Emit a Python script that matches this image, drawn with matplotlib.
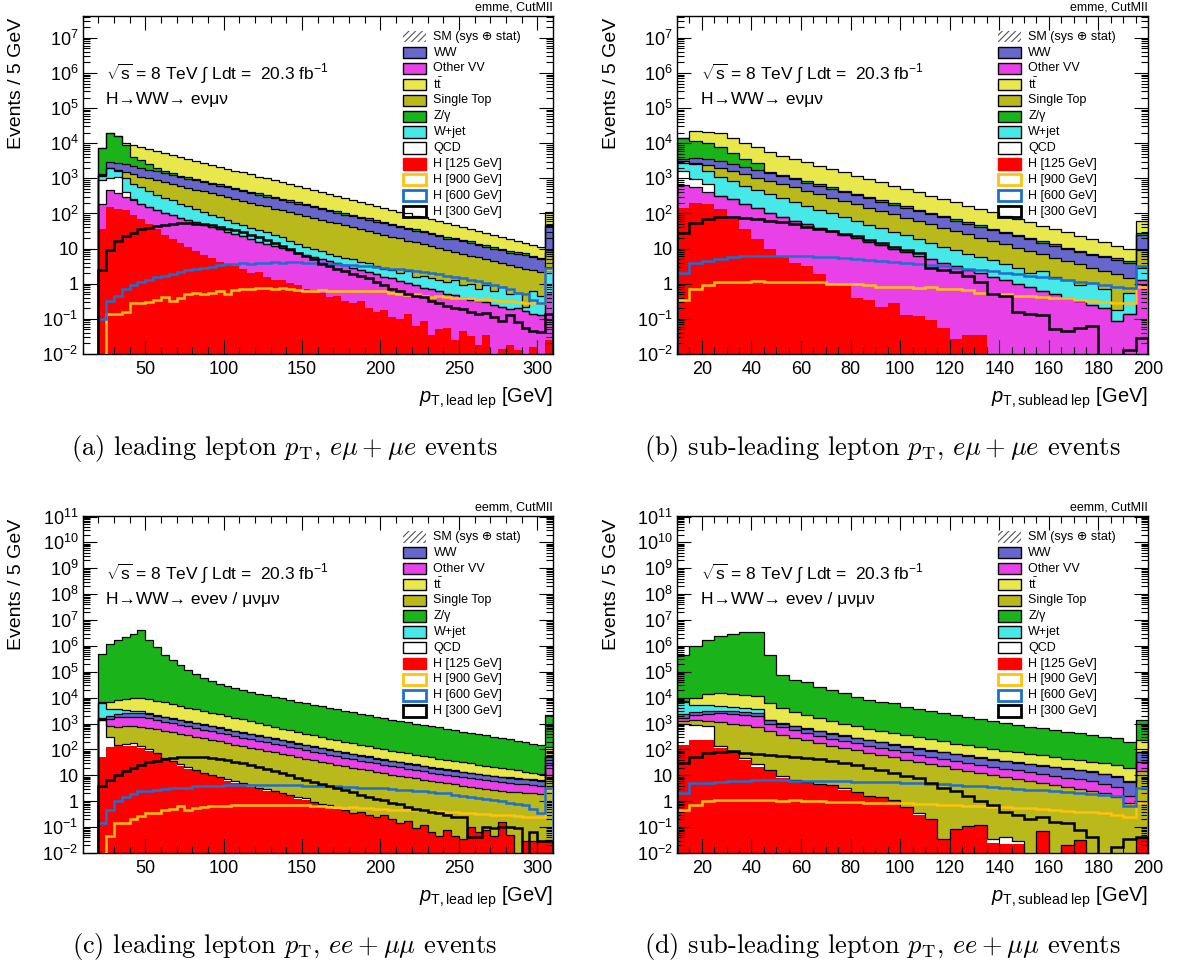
import numpy as np
import matplotlib
matplotlib.use("Agg")
import matplotlib.pyplot as plt
from matplotlib.patches import Rectangle
from matplotlib.ticker import LogLocator, FuncFormatter, MultipleLocator, NullFormatter

plt.rcParams['font.family'] = ['Liberation Sans', 'DejaVu Sans']
plt.rcParams['mathtext.fontset'] = 'custom'
plt.rcParams['mathtext.rm'] = 'Liberation Sans'
plt.rcParams['mathtext.it'] = 'Liberation Sans:italic'
plt.rcParams['mathtext.bf'] = 'Liberation Sans:bold'
plt.rcParams['hatch.linewidth'] = 0.8

# ------------------------------------------------------------
# values are log10(events / 5 GeV).
# stacked processes are given as the height of the top of each
# coloured band (cumulative stack), bottom band first.
# -5 marks an empty bin (below the axis).
# ------------------------------------------------------------
EDGES_LEAD = np.arange(20, 315, 5)    # 58 bins, 20..310 GeV
EDGES_SUB = np.arange(10, 205, 5)     # 38 bins, 10..200 GeV

# (a) leading lepton pT, e-mu
A_H125 = "1.57 2.19 2.14 2.10 1.95 1.85 1.70 1.55 1.40 1.28  1.15 1.05 0.92 0.82 0.72 0.62 0.55 0.50 0.42 0.30  0.32 0.20 0.12 0.10 0.02 -0.05 -0.15 -0.18 -0.25 -0.38  -0.35 -0.50 -0.55 -0.48 -0.70 -0.80 -0.75 -0.95 -1.00 -0.85  -1.20 -1.05 -1.45 -1.30 -1.25 -1.60 -1.35 -1.50 -1.75 -1.45  -5 -1.85 -1.75 -1.90 -5 -1.80 -5 -1.60"
A_VV = "2.28 2.66 2.58 2.48 2.38 2.28 2.19 2.10 2.02 1.95  1.88 1.81 1.75 1.68 1.61 1.55 1.48 1.42 1.35 1.28  1.20 1.14 1.08 1.02 0.95 0.88 0.82 0.76 0.70 0.65  0.58 0.52 0.46 0.40 0.34 0.28 0.20 0.15 0.08 0.02  -0.05 -0.12 -0.15 -0.22 -0.28 -0.33 -0.40 -0.45 -0.50 -0.52  -0.60 -0.65 -0.72 -0.70 -0.78 -0.85 -0.90 -0.30"
A_QCD = "2.95 3.00 3.05 2.60 2.40 -5 -5 -5 -5 -5  -5 -5 -5 -5 -5 -5 -5 -5 -5 -5  -5 -5 -5 -5 -5 -5 -5 -5 -5 -5  -5 -5 -5 -5 -5 -5 -5 -5 -5 -5  -5 -5 -5 -5 -5 -5 -5 -5 -5 -5  -5 -5 -5 -5 -5 -5 -5 -5"
A_WJ = "3.08 3.30 3.20 3.00 2.85 2.74 2.63 2.54 2.45 2.37  2.28 2.20 2.12 2.04 1.96 1.89 1.82 1.74 1.67 1.60  1.53 1.46 1.39 1.32 1.22 1.12 1.05 0.98 0.92 0.86  0.80 0.74 0.70 0.62 0.58 0.50 0.42 0.40 0.30 0.35  0.20 0.22 0.15 0.10 0.05 0.12 -0.05 0.00 -0.15 -0.05  -0.20 -0.10 -0.30 -0.25 -0.65 -0.20 -0.35 0.35"
A_ST = "3.10 3.27 3.24 3.17 3.11 3.05 3.00 2.94 2.89 2.84  2.79 2.73 2.68 2.63 2.57 2.52 2.47 2.41 2.36 2.31  2.25 2.20 2.14 2.09 2.04 1.98 1.93 1.88 1.82 1.77  1.72 1.66 1.61 1.55 1.50 1.45 1.39 1.34 1.29 1.23  1.18 1.13 1.07 1.02 0.96 0.91 0.86 0.80 0.75 0.70  0.64 0.59 0.54 0.48 0.43 0.38 0.32 0.90"
A_WW = "3.12 3.47 3.45 3.40 3.35 3.30 3.25 3.20 3.15 3.10  3.04 2.99 2.94 2.89 2.84 2.79 2.74 2.69 2.63 2.58  2.53 2.48 2.43 2.38 2.33 2.28 2.23 2.18 2.12 2.07  2.02 1.97 1.92 1.87 1.82 1.77 1.72 1.66 1.61 1.56  1.51 1.46 1.41 1.36 1.28 1.26 1.21 1.17 1.10 1.05  1.00 0.95 0.88 0.85 0.83 0.75 0.70 1.64"
A_Z = "3.85 4.28 4.20 3.95 3.62 3.52 3.42 3.30 3.22 3.14  3.08 3.03 2.98 2.93 2.88 2.83 2.78 2.73 2.67 2.62  2.57 2.52 2.47 2.42 2.37 2.32 2.27 2.22 2.16 2.11  2.06 2.01 1.96 1.91 1.86 1.81 1.76 1.70 1.65 1.60  1.55 1.50 1.45 1.40 1.32 1.30 1.25 1.21 1.14 1.09  1.04 0.99 0.92 0.89 0.87 0.79 0.74 1.68"
A_TT = "3.85 4.28 4.20 4.00 3.95 3.90 3.84 3.78 3.73 3.67  3.61 3.56 3.50 3.44 3.39 3.33 3.28 3.22 3.17 3.11  3.05 3.00 2.95 2.89 2.83 2.78 2.72 2.67 2.61 2.56  2.50 2.44 2.39 2.33 2.28 2.22 2.17 2.11 2.05 2.00  1.94 1.89 1.83 1.78 1.72 1.67 1.61 1.56 1.50 1.44  1.39 1.33 1.28 1.22 1.16 1.11 1.05 2.05"
A_H300 = "0.40 0.95 1.22 1.35 1.45 1.55 1.60 1.65 1.68 1.70  1.72 1.72 1.71 1.69 1.66 1.62 1.57 1.52 1.46 1.40  1.32 1.25 1.15 1.07 1.00 0.88 0.80 0.70 0.55 0.50  0.42 0.35 0.28 0.22 0.15 0.05 -0.05 -0.15 -0.20 -0.28  -0.35 -0.38 -0.50 -0.55 -0.62 -0.70 -0.72 -0.80 -0.85 -0.82  -0.95 -1.05 -0.90 -1.10 -1.25 -1.35 -1.38 -0.85"
A_H600 = "-1.00 -0.50 -0.35 -0.15 -0.05 0.05 0.12 0.18 0.22 0.28  0.32 0.38 0.42 0.45 0.48 0.52 0.55 0.55 0.58 0.57  0.60 0.60 0.62 0.60 0.62 0.61 0.60 0.58 0.60 0.57  0.55 0.52 0.53 0.50 0.50 0.48 0.45 0.42 0.42 0.38  0.35 0.33 0.30 0.28 0.22 0.20 0.15 0.10 0.08 0.02  -0.05 -0.10 -0.15 -0.25 -0.30 -0.45 -0.55 0.45"
A_H900 = "-5 -0.85 -0.85 -0.80 -0.55 -0.55 -0.52 -0.45 -0.38 -0.48  -0.42 -0.30 -0.25 -0.28 -0.27 -0.22 -0.28 -0.18 -0.15 -0.16  -0.12 -0.13 -0.14 -0.12 -0.14 -0.18 -0.20 -0.20 -0.18 -0.22  -0.20 -0.22 -0.21 -0.20 -0.22 -0.20 -0.22 -0.25 -0.30 -0.32  -0.30 -0.35 -0.38 -0.36 -0.38 -0.42 -0.40 -0.42 -0.45 -0.43  -0.45 -0.48 -0.50 -0.52 -0.55 -0.55 -0.55 0.40"

# (b) sub-leading lepton pT, e-mu
B_H125 = "2.15 2.30 2.28 2.13 1.85 1.56 1.27 0.98 0.79 0.60  0.50 0.27 -0.01 -0.07 -0.40 -0.45 -0.65 -0.55 -0.88 -0.93  -1.03 -1.27 -1.56 -1.47 -1.47 -5 -5 -5 -5 -5  -5 -5 -5 -5 -5 -5 -5 -5"
B_VV = "2.80 2.75 2.60 2.50 2.40 2.27 2.15 2.02 1.90 1.80  1.70 1.60 1.50 1.40 1.30 1.20 1.10 1.00 0.90 0.80  0.70 0.60 0.50 0.40 0.30 0.20 0.10 0.00 -0.10 -0.20  -0.30 -0.40 -0.50 -0.60 -0.70 -1.05 -0.85 0.10"
B_QCD = "3.20 2.98 2.85 -5 -5 -5 -5 -5 -5 -5  -5 -5 -5 -5 -5 -5 -5 -5 -5 -5  -5 -5 -5 -5 -5 -5 -5 -5 -5 -5  -5 -5 -5 -5 -5 -5 -5 -5"
B_WJ = "3.45 3.42 3.20 3.05 2.92 2.78 2.66 2.55 2.44 2.33  2.22 2.11 2.00 1.90 1.79 1.68 1.58 1.48 1.38 1.28  1.15 1.05 0.95 0.85 0.75 0.68 0.55 0.45 0.30 0.35  0.18 0.12 -0.05 0.02 -0.15 -0.75 -0.25 0.45"
B_ST = "3.48 3.45 3.38 3.30 3.20 3.11 3.02 2.93 2.83 2.74  2.64 2.55 2.45 2.36 2.26 2.17 2.07 1.98 1.88 1.79  1.69 1.60 1.50 1.41 1.31 1.22 1.12 1.03 0.93 0.84  0.74 0.65 0.55 0.46 0.36 0.27 0.15 0.95"
B_WW = "3.55 3.58 3.55 3.48 3.40 3.32 3.24 3.15 3.06 2.97  2.88 2.79 2.70 2.61 2.52 2.43 2.34 2.25 2.16 2.07  1.98 1.89 1.80 1.71 1.62 1.53 1.44 1.35 1.26 1.17  1.08 0.99 0.90 0.81 0.75 0.68 0.60 1.40"
B_Z = "4.15 4.05 4.00 3.90 3.72 3.56 3.45 3.19 3.10 3.01  2.92 2.83 2.74 2.65 2.56 2.47 2.38 2.29 2.20 2.11  2.02 1.93 1.84 1.75 1.66 1.57 1.48 1.39 1.30 1.21  1.12 1.03 0.94 0.85 0.79 0.72 0.64 1.44"
B_TT = "4.15 4.35 4.33 4.28 4.15 4.02 3.88 3.75 3.65 3.55  3.46 3.36 3.27 3.17 3.08 2.98 2.89 2.79 2.70 2.60  2.51 2.41 2.32 2.22 2.13 2.03 1.94 1.84 1.75 1.65  1.56 1.46 1.37 1.27 1.18 1.08 0.98 1.80"
B_H300 = "1.45 1.72 1.85 1.90 1.90 1.88 1.85 1.80 1.75 1.70  1.62 1.55 1.50 1.43 1.35 1.25 1.15 1.05 0.95 0.88  0.45 0.38 0.32 0.22 0.05 -0.30 -0.35 -0.80 -0.85 -0.90  -1.30 -1.35 -1.25 -1.20 -5 -5 -1.90 -1.55"
B_H600 = "0.30 0.60 0.65 0.70 0.75 0.78 0.80 0.80 0.78 0.78  0.80 0.77 0.75 0.72 0.70 0.67 0.65 0.62 0.60 0.55  0.52 0.50 0.45 0.42 0.40 0.35 0.30 0.28 0.22 0.20  0.15 0.12 0.05 0.02 -0.05 -0.08 -0.12 0.50"
B_H900 = "-0.45 -0.15 -0.05 0.05 0.05 0.06 0.07 0.05 0.05 0.06  0.06 0.04 0.00 0.00 0.00 -0.05 -0.08 -0.10 -0.10 -0.12  -0.10 -0.15 -0.15 -0.18 -0.25 -0.28 -0.30 -0.35 -0.35 -0.38  -0.40 -0.42 -0.45 -0.50 -0.52 -0.55 -0.55 -0.10"

# (c) leading lepton pT, ee+mumu
C_H125 = "1.72 2.10 2.12 2.15 2.12 2.05 1.93 1.82 1.62 1.50  1.36 1.25 1.15 1.05 0.97 0.88 0.78 0.72 0.65 0.55  0.47 0.40 0.35 0.27 0.20 0.10 0.05 -0.08 -0.15 -0.22  -0.30 -0.35 -0.45 -0.40 -0.55 -0.62 -0.55 -0.70 -0.85 -0.75  -1.05 -0.90 -1.20 -1.35 -1.10 -1.35 -1.45 -1.00 -1.20 -1.10  -1.35 -0.80 -1.30 -5 -1.55 -1.55 -1.55 -1.50"
C_QCD = "3.14 2.50 2.18 2.22 2.25 2.15 2.00 1.88 1.68 1.56  1.42 1.31 1.21 1.11 1.03 0.94 0.84 0.78 0.71 0.61  0.53 0.46 0.41 0.33 0.26 0.16 0.11 -0.02 -0.09 -0.16  -0.24 -5 -5 -5 -5 -5 -5 -5 -5 -5  -5 -5 -5 -5 -5 -5 -5 -5 -5 -5  -5 -5 -5 -5 -5 -5 -5 -5"
C_ST = "3.15 2.90 2.88 2.90 2.90 2.88 2.84 2.79 2.73 2.67  2.61 2.55 2.49 2.43 2.37 2.31 2.25 2.19 2.13 2.07  2.01 1.95 1.89 1.83 1.77 1.71 1.65 1.59 1.53 1.47  1.41 1.35 1.30 1.24 1.19 1.13 1.08 1.03 0.98 0.93  0.88 0.83 0.78 0.74 0.69 0.65 0.60 0.56 0.52 0.48  0.44 0.40 0.37 0.34 0.32 0.30 0.28 1.00"
C_VV = "3.18 3.18 3.24 3.27 3.27 3.25 3.20 3.15 3.08 3.02  2.96 2.89 2.83 2.77 2.71 2.65 2.58 2.52 2.46 2.40  2.34 2.28 2.22 2.16 2.10 2.04 1.98 1.92 1.86 1.80  1.74 1.68 1.63 1.57 1.52 1.46 1.41 1.36 1.31 1.26  1.21 1.16 1.11 1.07 1.02 0.98 0.93 0.89 0.85 0.81  0.77 0.73 0.70 0.67 0.65 0.62 0.60 1.40"
C_WW = "3.22 3.30 3.38 3.42 3.42 3.40 3.36 3.31 3.25 3.19  3.13 3.07 3.01 2.95 2.89 2.83 2.77 2.71 2.65 2.59  2.53 2.47 2.41 2.35 2.29 2.23 2.17 2.11 2.05 1.99  1.93 1.87 1.82 1.76 1.71 1.65 1.60 1.55 1.50 1.45  1.40 1.35 1.30 1.26 1.21 1.17 1.12 1.08 1.04 1.00  0.96 0.93 0.90 0.87 0.85 0.82 0.80 1.72"
C_WJ = "3.80 3.58 3.55 3.53 3.50 3.47 3.42 3.33 3.27 3.21  3.15 3.09 3.03 2.97 2.91 2.85 2.79 2.73 2.67 2.61  2.55 2.49 2.43 2.37 2.31 2.25 2.19 2.13 2.07 2.01  1.95 1.89 1.84 1.78 1.73 1.67 1.62 1.57 1.52 1.47  1.42 1.37 1.32 1.28 1.23 1.19 1.14 1.10 1.06 1.02  0.98 0.95 0.92 0.89 0.87 0.84 0.82 1.75"
C_TT = "3.82 3.85 3.90 3.95 4.00 4.00 3.95 3.88 3.82 3.75  3.68 3.62 3.55 3.48 3.42 3.36 3.30 3.23 3.16 3.09  3.02 2.95 2.88 2.81 2.74 2.67 2.60 2.54 2.48 2.42  2.36 2.30 2.24 2.18 2.12 2.06 2.00 1.95 1.90 1.85  1.80 1.75 1.70 1.65 1.60 1.55 1.50 1.46 1.41 1.37  1.32 1.28 1.23 1.19 1.14 1.10 1.05 2.10"
C_Z = "5.70 6.09 6.22 6.35 6.48 6.60 6.22 5.96 5.64 5.45  5.26 5.07 4.90 4.76 4.64 4.53 4.44 4.36 4.29 4.22  4.16 4.10 4.03 3.97 3.91 3.85 3.79 3.73 3.67 3.61  3.55 3.50 3.44 3.38 3.32 3.26 3.20 3.15 3.10 3.05  3.00 2.95 2.90 2.85 2.80 2.74 2.69 2.64 2.59 2.54  2.49 2.44 2.39 2.33 2.28 2.23 2.18 3.33"
C_H300 = "0.57 0.83 1.02 1.15 1.28 1.40 1.50 1.56 1.62 1.66  1.69 1.70 1.70 1.69 1.66 1.62 1.58 1.53 1.47 1.40  1.33 1.25 1.16 1.08 1.00 0.91 0.83 0.74 0.66 0.60  0.50 0.42 0.34 0.25 0.18 0.10 0.05 -0.05 -0.12 -0.22  -0.30 -0.33 -0.40 -0.45 -0.52 -0.60 -0.62 -1.40 -1.40 -1.00  -1.05 -1.00 -1.00 -1.05 -5 -1.20 -1.55 -1.55"
C_H600 = "-0.84 -0.33 0.00 0.18 0.29 0.38 0.40 0.44 0.46 0.50  0.50 0.53 0.57 0.58 0.59 0.60 0.62 0.62 0.63 0.62  0.63 0.62 0.62 0.63 0.61 0.62 0.60 0.60 0.58 0.59  0.57 0.56 0.55 0.53 0.52 0.50 0.50 0.47 0.45 0.43  0.40 0.38 0.35 0.33 0.30 0.25 0.20 0.15 0.12 0.10  0.05 0.00 -0.05 -0.10 -0.14 -0.30 -0.46 0.50"
C_H900 = "-5 -1.36 -0.84 -0.84 -0.70 -0.58 -0.45 -0.45 -0.35 -0.30  -0.20 -0.35 -0.25 -0.22 -0.20 -0.18 -0.17 -0.15 -0.15 -0.15  -0.14 -0.16 -0.15 -0.15 -0.16 -0.15 -0.16 -0.18 -0.20 -0.22  -0.24 -0.25 -0.24 -0.26 -0.28 -0.30 -0.30 -0.32 -0.33 -0.35  -0.35 -0.33 -0.36 -0.38 -0.40 -0.42 -0.44 -0.45 -0.48 -0.50  -0.52 -0.55 -0.55 -0.58 -0.60 -0.62 -0.62 0.45"

# (d) sub-leading lepton pT, ee+mumu
D_H125 = "2.18 2.37 2.35 2.05 1.85 1.60 1.34 1.15 0.90 0.76  0.70 0.64 0.57 0.44 0.31 0.18 0.12 -0.01 -0.27 -0.52  -0.71 -1.48 -1.10 -0.98 -0.95 -1.60 -1.65 -1.65 -5 -1.16  -5 -1.70 -1.48 -5 -5 -5 -5 -1.42"
D_QCD = "3.00 2.95 2.90 2.12 1.92 1.68 1.42 1.22 0.98 0.83  0.75 0.68 0.62 0.50 0.36 0.22 0.15 0.03 -0.22 -0.47  -0.67 -1.44 -1.06 -0.95 -0.92 -1.45 -1.40 -1.55 -5 -5  -5 -5 -5 -5 -5 -5 -5 -5"
D_ST = "3.10 3.15 3.10 3.05 3.00 2.95 2.88 2.70 2.55 2.45  2.35 2.25 2.15 2.06 1.97 1.88 1.79 1.70 1.61 1.52  1.43 1.35 1.26 1.18 1.10 1.02 0.94 0.86 0.78 0.70  0.62 0.54 0.46 0.38 0.30 0.15 -0.08 1.15"
D_VV = "3.20 3.33 3.38 3.40 3.38 3.35 3.28 3.00 2.85 2.74  2.63 2.52 2.42 2.33 2.24 2.15 2.06 1.97 1.89 1.80  1.72 1.64 1.56 1.48 1.41 1.33 1.26 1.19 1.12 1.05  0.98 0.91 0.84 0.77 0.68 0.55 0.20 1.50"
D_WW = "3.38 3.45 3.50 3.50 3.48 3.45 3.40 3.12 3.00 2.90  2.80 2.70 2.60 2.52 2.43 2.35 2.27 2.19 2.11 2.03  1.96 1.89 1.82 1.75 1.68 1.61 1.55 1.49 1.43 1.37  1.31 1.25 1.19 1.13 1.05 0.95 0.75 1.90"
D_WJ = "3.85 3.72 3.70 3.67 3.65 3.62 3.55 3.15 3.02 2.92  2.82 2.72 2.62 2.54 2.45 2.37 2.29 2.21 2.13 2.05  1.98 1.91 1.84 1.77 1.70 1.63 1.57 1.51 1.45 1.39  1.33 1.27 1.21 1.15 1.07 0.97 0.77 1.92"
D_TT = "3.87 4.00 4.15 4.18 4.15 4.10 4.05 3.80 3.60 3.45  3.33 3.20 3.10 3.00 2.90 2.81 2.72 2.63 2.55 2.47  2.39 2.31 2.23 2.16 2.09 2.02 1.95 1.89 1.83 1.77  1.71 1.65 1.59 1.53 1.47 1.40 1.30 2.35"
D_Z = "5.64 5.99 6.22 6.39 6.48 6.54 6.54 5.64 4.87 4.68  4.60 4.42 4.30 4.17 4.04 3.91 3.85 3.78 3.65 3.56  3.48 3.40 3.33 3.25 3.18 3.10 3.03 2.96 2.88 2.82  2.75 2.68 2.62 2.56 2.50 2.45 2.30 3.14"
D_H300 = "1.47 1.72 1.85 1.92 1.93 1.88 1.84 1.80 1.76 1.72  1.68 1.62 1.56 1.48 1.40 1.30 1.20 1.10 0.98 0.88  0.70 0.50 0.38 0.20 0.02 -0.15 -0.40 -0.55 -0.68 -0.60  -0.80 -0.85 -1.10 -1.40 -5 -1.75 -1.45 -1.40"
D_H600 = "0.30 0.70 0.72 0.76 0.77 0.80 0.83 0.83 0.82 0.80  0.80 0.79 0.78 0.77 0.76 0.75 0.74 0.73 0.72 0.70  0.68 0.65 0.62 0.60 0.58 0.55 0.52 0.48 0.45 0.42  0.38 0.35 0.30 0.28 0.25 0.22 -0.20 0.50"
D_H900 = "-0.33 -0.14 0.00 0.06 0.06 0.05 0.06 0.03 0.00 0.03  0.01 0.00 -0.02 -0.02 -0.03 -0.05 -0.05 -0.06 -0.08 -0.10  -0.12 -0.14 -0.16 -0.18 -0.20 -0.22 -0.24 -0.26 -0.27 -0.30  -0.33 -0.36 -0.40 -0.43 -0.47 -0.52 -0.60 -0.05"

COLORS = {
    'WW': '#6666cc', 'VV': '#e841e8', 'TT': '#e8e84c', 'ST': '#b9b91c',
    'Z': '#1ab31a', 'WJ': '#46e8e8', 'QCD': 'white', 'H125': '#ff0000',
    'H900': '#ffc20e', 'H600': '#1f6fd0', 'H300': 'black',
}

W, H = 1189, 967


def arr(s):
    return np.array(s.split(), dtype=float)


def px_rect(l, t, r, b):
    return [l / W, 1 - b / H, (r - l) / W, (b - t) / H]


def yfmt(v, pos):
    n = int(round(np.log10(v)))
    if n == 0:
        return '1'
    if n == 1:
        return '10'
    return r'$\mathregular{10^{%d}}$' % n


def draw_panel(ax, edges, layers, h900, h600, h300, ytop, xmaj, xmin,
               chan, decay, xlab):
    # stacked, bottom band first
    tops = np.maximum.accumulate(np.vstack([arr(s) for _, s in layers]), axis=0)
    base = np.full(tops.shape[1], -6.0)
    for (name, _), top in zip(layers, tops):
        ax.stairs(10 ** top, edges, baseline=10 ** base, fill=True,
                  color=COLORS[name], lw=0, zorder=1)
        base = top
    for (name, _), top in zip(layers, tops):
        if name != 'H125':
            ax.stairs(10 ** top, edges, baseline=1e-6, color='black',
                      lw=0.9, zorder=2)
    for s, c in [(h900, COLORS['H900']), (h600, COLORS['H600']), (h300, COLORS['H300'])]:
        ax.stairs(10 ** arr(s), edges, baseline=1e-6, color=c, lw=1.8, zorder=3)

    ax.set_yscale('log')
    ax.set_ylim(1e-2, ytop)
    ax.set_xlim(10, edges[-1])
    ax.yaxis.set_major_locator(LogLocator(base=10, numticks=30))
    ax.yaxis.set_minor_locator(LogLocator(base=10, subs=np.arange(2, 10), numticks=30))
    ax.yaxis.set_major_formatter(FuncFormatter(yfmt))
    ax.yaxis.set_minor_formatter(NullFormatter())
    ax.xaxis.set_major_locator(MultipleLocator(xmaj))
    ax.xaxis.set_minor_locator(MultipleLocator(xmin))
    ax.tick_params(which='both', direction='in', top=True, right=True, labelsize=13)
    ax.tick_params(which='major', length=10, width=0.8)
    ax.tick_params(which='minor', length=5, width=0.8)
    ax.tick_params(axis='x', pad=5)
    ax.tick_params(axis='y', pad=3)
    for sp in ax.spines.values():
        sp.set_linewidth(1.0)

    bb = ax.get_position()
    aw, ah = bb.width * W, bb.height * H

    ax.text(-66 / aw, 0.993, 'Events / 5 GeV', rotation=90, transform=ax.transAxes,
            ha='center', va='top', fontsize=14)
    ax.text(1.0, -44 / ah, xlab, transform=ax.transAxes, ha='right', va='center',
            fontsize=14.5)
    ax.text(1.0, 1.006, chan, transform=ax.transAxes, ha='right', va='bottom',
            fontsize=9)
    ax.text(24 / aw, 0.828,
            r'$\sqrt{\mathregular{s}}$ = 8 TeV $\int$ Ldt =  20.3 fb$^{\mathregular{-1}}$',
            transform=ax.transAxes, ha='left', va='center', fontsize=12.5)
    ax.text(24 / aw, 0.751, decay, transform=ax.transAxes, ha='left', va='center',
            fontsize=12.5)

    # legend, drawn by hand like the ROOT TLegend
    entries = [
        ('SM (sys \u2295 stat)', 'hatch'),
        ('WW', 'WW'), ('Other VV', 'VV'), (r'$\mathregular{t\bar{t}}$', 'TT'),
        ('Single Top', 'ST'), ('Z/\u03b3', 'Z'), ('W+jet', 'WJ'), ('QCD', 'QCD'),
        ('H [125 GeV]', 'H125'), ('H [900 GeV]', 'H900'),
        ('H [600 GeV]', 'H600'), ('H [300 GeV]', 'H300'),
    ]
    bw, bh = 22.3 / aw, 11.3 / ah
    x0, xt = 0.682, 0.746
    y_first, y_last = 0.938, 0.421
    step = (y_first - y_last) / (len(entries) - 1)
    for k, (lab, key) in enumerate(entries):
        y = y_first - k * step
        if key == 'hatch':
            p = Rectangle((x0, y - bh / 2), bw, bh, transform=ax.transAxes,
                          facecolor='none', edgecolor='#555555', hatch='/////', lw=0)
        elif key in ('H900', 'H600', 'H300'):
            p = Rectangle((x0, y - bh / 2), bw, bh, transform=ax.transAxes,
                          facecolor='white', edgecolor=COLORS[key], lw=2.0)
        elif key == 'H125':
            p = Rectangle((x0, y - bh / 2), bw, bh, transform=ax.transAxes,
                          facecolor=COLORS[key], edgecolor=COLORS[key], lw=1.0)
        else:
            p = Rectangle((x0, y - bh / 2), bw, bh, transform=ax.transAxes,
                          facecolor=COLORS[key], edgecolor='black', lw=1.0)
        p.set_clip_on(False)
        ax.add_patch(p)
        ax.text(xt, y, lab, transform=ax.transAxes, ha='left', va='center', fontsize=9)


fig = plt.figure(figsize=(W / 100, H / 100), dpi=100)

ax_a = fig.add_axes(px_rect(82.5, 15.7, 553, 354))
ax_b = fig.add_axes(px_rect(677, 15.7, 1148, 354))
ax_c = fig.add_axes(px_rect(82.5, 516, 553, 853))
ax_d = fig.add_axes(px_rect(677, 516, 1148, 853))

lay_emu = lambda h125, vv, qcd, wj, st, ww, z, tt: [
    ('H125', h125), ('VV', vv), ('QCD', qcd), ('WJ', wj),
    ('ST', st), ('WW', ww), ('Z', z), ('TT', tt)]
lay_sf = lambda h125, qcd, st, vv, ww, wj, tt, z: [
    ('H125', h125), ('QCD', qcd), ('ST', st), ('VV', vv),
    ('WW', ww), ('WJ', wj), ('TT', tt), ('Z', z)]

xl_lead = r'$p_{\mathregular{T,lead\ lep}}$ [GeV]'
xl_sub = r'$p_{\mathregular{T,sublead\ lep}}$ [GeV]'

draw_panel(ax_a, EDGES_LEAD, lay_emu(A_H125, A_VV, A_QCD, A_WJ, A_ST, A_WW, A_Z, A_TT),
           A_H900, A_H600, A_H300, 10 ** 7.63, 50, 10, 'emme, CutMII',
           'H\u2192WW\u2192 e\u03bd\u03bc\u03bd', xl_lead)
draw_panel(ax_b, EDGES_SUB, lay_emu(B_H125, B_VV, B_QCD, B_WJ, B_ST, B_WW, B_Z, B_TT),
           B_H900, B_H600, B_H300, 10 ** 7.63, 20, 5, 'emme, CutMII',
           'H\u2192WW\u2192 e\u03bd\u03bc\u03bd', xl_sub)
draw_panel(ax_c, EDGES_LEAD, lay_sf(C_H125, C_QCD, C_ST, C_VV, C_WW, C_WJ, C_TT, C_Z),
           C_H900, C_H600, C_H300, 10 ** 11.02, 50, 10, 'eemm, CutMII',
           'H\u2192WW\u2192 e\u03bde\u03bd / \u03bc\u03bd\u03bc\u03bd', xl_lead)
draw_panel(ax_d, EDGES_SUB, lay_sf(D_H125, D_QCD, D_ST, D_VV, D_WW, D_WJ, D_TT, D_Z),
           D_H900, D_H600, D_H300, 10 ** 11.02, 20, 5, 'eemm, CutMII',
           'H\u2192WW\u2192 e\u03bde\u03bd / \u03bc\u03bd\u03bc\u03bd', xl_sub)

captions = [
    (284.5, 448, r'(a) leading lepton $p_{\mathrm{T}}$, $e\mu+\mu e$ events'),
    (882, 448, r'(b) sub-leading lepton $p_{\mathrm{T}}$, $e\mu+\mu e$ events'),
    (284.5, 946, r'(c) leading lepton $p_{\mathrm{T}}$, $ee+\mu\mu$ events'),
    (882, 946, r'(d) sub-leading lepton $p_{\mathrm{T}}$, $ee+\mu\mu$ events'),
]
for cx, cy, txt in captions:
    fig.text(cx / W, 1 - cy / H, txt, ha='center', va='center', fontsize=19,
             family='cmr10', math_fontfamily='cm')

fig.savefig('out.png', dpi=100, facecolor='white')
